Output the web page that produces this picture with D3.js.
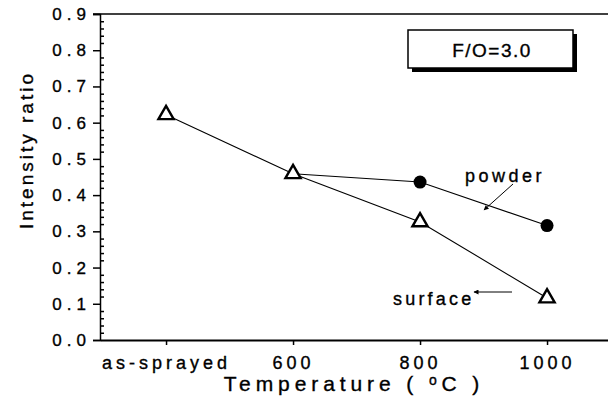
<!DOCTYPE html>
<html>
<head>
<meta charset="utf-8">
<script src="https://cdn.jsdelivr.net/npm/d3@7"></script>
<style>
  body { margin: 0; background: #fff; }
  svg { display: block; font-family: "Liberation Sans", Arial, sans-serif; }
  svg text { stroke: #000; stroke-width: 0.35px; fill: #000; }
</style>
</head>
<body>
<svg id="chart" width="608" height="417"></svg>
<script>
// ---- data ----
const categories = ["as-sprayed", "600", "800", "1000"];
const surfaceValues = [0.622, 0.459, 0.326, 0.116];
const powderCategories = ["600", "800", "1000"];
const powderValues = [0.459, 0.436, 0.316];
const yTickValues = [0.0, 0.1, 0.2, 0.3, 0.4, 0.5, 0.6, 0.7, 0.8, 0.9];
const legendText = "F/O=3.0";

// ---- layout ----
const svg = d3.select("#chart");
const mLeft = 100, mRight = 608, mTop = 14, mBottom = 340;

const x = d3.scaleLinear().domain([-0.52, 3.48]).range([mLeft, mRight]);
const y = d3.scaleLinear().domain([0, 0.9]).range([mBottom, mTop]);
const xi = c => x(categories.indexOf(c));

// Top frame line
svg.append("line")
  .attr("x1", mLeft - 7).attr("x2", mRight)
  .attr("y1", y(0.9)).attr("y2", y(0.9))
  .attr("stroke", "#000").attr("stroke-width", 1.5);

// Y axis major
const yAxis = svg.append("g").attr("transform", `translate(${mLeft},0)`)
  .call(d3.axisLeft(y).tickValues(yTickValues).tickFormat(d3.format(".1f")).tickSize(7).tickPadding(2));
yAxis.select(".domain").attr("stroke-width", 1.5);
yAxis.selectAll(".tick line").attr("stroke-width", 1.5);
yAxis.selectAll("text").attr("font-size", 17).attr("letter-spacing", 5)
  .attr("font-family", "Liberation Sans, Arial, sans-serif");

// Y minor ticks (inward)
const minor = d3.range(1, 45).map(i => i * 0.02).filter(v => Math.abs(v * 10 - Math.round(v * 10)) > 1e-6);
svg.append("g").attr("transform", `translate(${mLeft},0)`)
  .call(d3.axisRight(y).tickValues(minor).tickSize(4).tickFormat(""))
  .call(g => g.select(".domain").remove())
  .selectAll(".tick line").attr("stroke-width", 1.5);

// X axis
const xAxis = svg.append("g").attr("transform", `translate(0,${mBottom})`)
  .call(d3.axisBottom(x).tickValues(d3.range(categories.length)).tickFormat(i => categories[i]).tickSize(5).tickSizeOuter(0).tickPadding(11));
xAxis.select(".domain").attr("stroke-width", 1.8);
xAxis.selectAll(".tick line").attr("stroke-width", 1.5);
xAxis.selectAll("text").attr("font-size", 18).attr("letter-spacing", 4)
  .attr("font-family", "Liberation Sans, Arial, sans-serif")
  .attr("dx", 0);

// Axis titles
svg.append("text")
  .attr("transform", `translate(33,${(mTop + mBottom) / 2 - 27}) rotate(-90)`)
  .attr("text-anchor", "middle")
  .attr("font-size", 19).attr("letter-spacing", 3)
  .text("Intensity ratio");

const xt = svg.append("text")
  .attr("x", 354).attr("y", 391)
  .attr("text-anchor", "middle")
  .attr("font-size", 21).attr("letter-spacing", 4.9);
xt.append("tspan").text("Temperature ( ");
xt.append("tspan").attr("font-size", 14).attr("dy", -6).text("o");
xt.append("tspan").attr("dy", 6).text("C )");

// Lines
const line = d3.line().x(d => xi(d.c)).y(d => y(d.v));
const surfaceData = categories.map((c, i) => ({ c, v: surfaceValues[i] }));
const powderData = powderCategories.map((c, i) => ({ c, v: powderValues[i] }));

svg.append("path").datum(surfaceData).attr("d", line)
  .attr("fill", "none").attr("stroke", "#000").attr("stroke-width", 1.1);
svg.append("path").datum(powderData).attr("d", line)
  .attr("fill", "none").attr("stroke", "#000").attr("stroke-width", 1.1);

// Markers
const tri = d3.symbol().type(d3.symbolTriangle).size(100);
svg.selectAll(".tri").data(surfaceData).join("path")
  .attr("transform", d => `translate(${xi(d.c)},${y(d.v)})`)
  .attr("d", tri).attr("fill", "#fff").attr("stroke", "#000").attr("stroke-width", 2.4);

svg.selectAll(".dot").data(powderData.slice(1)).join("circle")
  .attr("cx", d => xi(d.c)).attr("cy", d => y(d.v)).attr("r", 6.5).attr("fill", "#000");

// Annotations
const defs = svg.append("defs");
defs.append("marker").attr("id", "ah").attr("viewBox", "0 0 10 10")
  .attr("refX", 9).attr("refY", 5).attr("markerWidth", 7).attr("markerHeight", 5)
  .attr("orient", "auto").append("path").attr("d", "M0,0 L10,5 L0,10 z").attr("fill", "#000");

svg.append("text").attr("x", 465).attr("y", 182).attr("font-size", 18).attr("letter-spacing", 3.5).text("powder");
svg.append("line").attr("x1", 513).attr("y1", 184).attr("x2", 484).attr("y2", 210)
  .attr("stroke", "#000").attr("stroke-width", 1).attr("marker-end", "url(#ah)");

svg.append("text").attr("x", 393).attr("y", 305).attr("font-size", 18).attr("letter-spacing", 3.2).text("surface");
svg.append("line").attr("x1", 512).attr("y1", 292).attr("x2", 474).attr("y2", 292)
  .attr("stroke", "#000").attr("stroke-width", 1).attr("marker-end", "url(#ah)");

// Legend box with shadow
svg.append("rect").attr("x", 412).attr("y", 34).attr("width", 165).attr("height", 38).attr("fill", "#000");
svg.append("rect").attr("x", 408).attr("y", 30).attr("width", 165).attr("height", 38)
  .attr("fill", "#fff").attr("stroke", "#000").attr("stroke-width", 1.5);
svg.append("text").attr("x", 492).attr("y", 57).attr("text-anchor", "middle")
  .attr("font-size", 19).attr("letter-spacing", 1.5).text(legendText);
</script>
</body>
</html>
